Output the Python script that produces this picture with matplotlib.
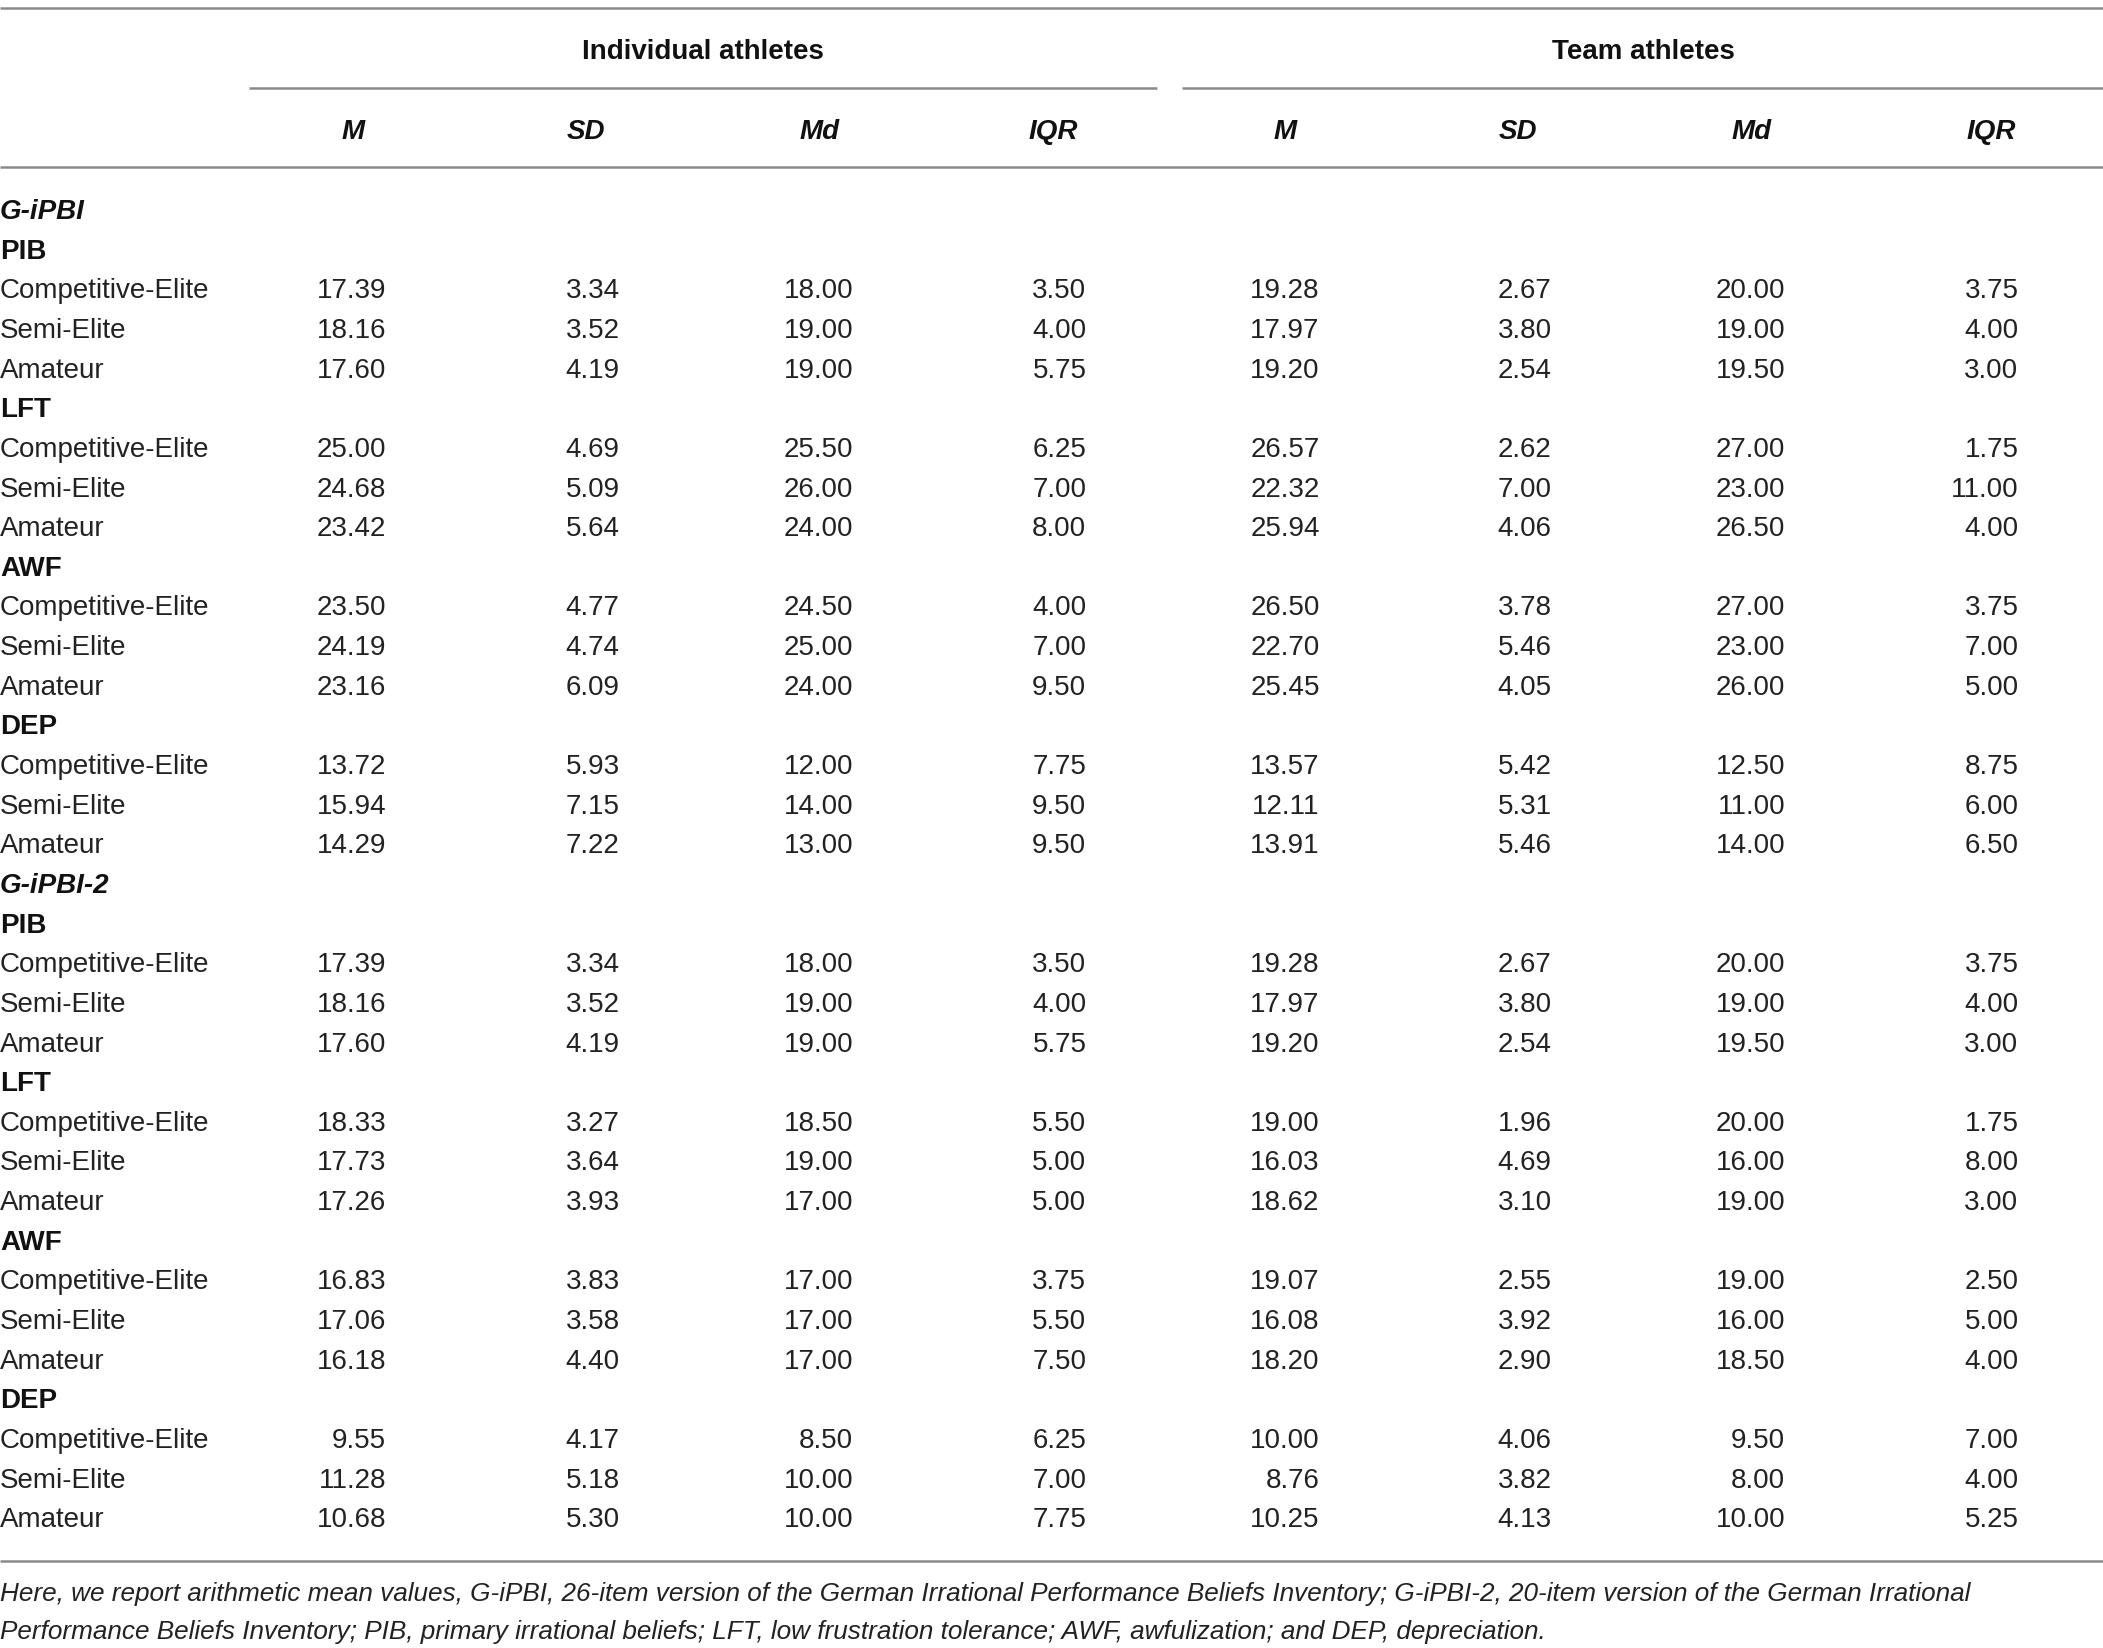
#!/usr/bin/env python3
import matplotlib
matplotlib.use('Agg')
from matplotlib import pyplot as plt

# table content
sections = ['G-iPBI', 'G-iPBI-2']
subscales = ['PIB', 'LFT', 'AWF', 'DEP']
groups = ['Competitive-Elite', 'Semi-Elite', 'Amateur']
col_labels = ['M', 'SD', 'Md', 'IQR', 'M', 'SD', 'Md', 'IQR']
span_labels = ['Individual athletes', 'Team athletes']

ind_m = [17.39, 18.16, 17.60, 25.00, 24.68, 23.42, 23.50, 24.19, 23.16, 13.72, 15.94, 14.29,
         17.39, 18.16, 17.60, 18.33, 17.73, 17.26, 16.83, 17.06, 16.18, 9.55, 11.28, 10.68]
ind_sd = [3.34, 3.52, 4.19, 4.69, 5.09, 5.64, 4.77, 4.74, 6.09, 5.93, 7.15, 7.22,
          3.34, 3.52, 4.19, 3.27, 3.64, 3.93, 3.83, 3.58, 4.40, 4.17, 5.18, 5.30]
ind_md = [18.00, 19.00, 19.00, 25.50, 26.00, 24.00, 24.50, 25.00, 24.00, 12.00, 14.00, 13.00,
          18.00, 19.00, 19.00, 18.50, 19.00, 17.00, 17.00, 17.00, 17.00, 8.50, 10.00, 10.00]
ind_iqr = [3.50, 4.00, 5.75, 6.25, 7.00, 8.00, 4.00, 7.00, 9.50, 7.75, 9.50, 9.50,
           3.50, 4.00, 5.75, 5.50, 5.00, 5.00, 3.75, 5.50, 7.50, 6.25, 7.00, 7.75]
team_m = [19.28, 17.97, 19.20, 26.57, 22.32, 25.94, 26.50, 22.70, 25.45, 13.57, 12.11, 13.91,
          19.28, 17.97, 19.20, 19.00, 16.03, 18.62, 19.07, 16.08, 18.20, 10.00, 8.76, 10.25]
team_sd = [2.67, 3.80, 2.54, 2.62, 7.00, 4.06, 3.78, 5.46, 4.05, 5.42, 5.31, 5.46,
           2.67, 3.80, 2.54, 1.96, 4.69, 3.10, 2.55, 3.92, 2.90, 4.06, 3.82, 4.13]
team_md = [20.00, 19.00, 19.50, 27.00, 23.00, 26.50, 27.00, 23.00, 26.00, 12.50, 11.00, 14.00,
           20.00, 19.00, 19.50, 20.00, 16.00, 19.00, 19.00, 16.00, 18.50, 9.50, 8.00, 10.00]
team_iqr = [3.75, 4.00, 3.00, 1.75, 11.00, 4.00, 3.75, 7.00, 5.00, 8.75, 6.00, 6.50,
            3.75, 4.00, 3.00, 1.75, 8.00, 3.00, 2.50, 5.00, 4.00, 7.00, 4.00, 5.25]

footnote = ['Here, we report arithmetic mean values, G-iPBI, 26-item version of the German Irrational '
            'Performance Beliefs Inventory; G-iPBI-2, 20-item version of the German Irrational',
            'Performance Beliefs Inventory; PIB, primary irrational beliefs; LFT, low frustration '
            'tolerance; AWF, awfulization; and DEP, depreciation.']

columns = [ind_m, ind_sd, ind_md, ind_iqr, team_m, team_sd, team_md, team_iqr]

# layout (in a 1568 x 1225 coordinate frame)
W, H = 1568, 1225
num_right = [288, 462, 636, 810, 984, 1157, 1331, 1505]
head_x = [263, 437, 611, 785, 958, 1132, 1306, 1485]
row0, step = 157.5, 29.45
fs = 20
line_kw = dict(color='#8a8a8a', lw=1.8, solid_capstyle='butt')

plt.rcParams['font.family'] = ['Liberation Sans', 'DejaVu Sans']
fig = plt.figure(figsize=(21.03, 16.49), dpi=100)
ax = fig.add_axes([0, 0, 1, 1])
ax.set_xlim(0, W)
ax.set_ylim(H, 0)
ax.axis('off')

# header
ax.plot([0, W], [7, 7], **line_kw)
ax.text(524, 39, span_labels[0], ha='center', va='center', fontsize=fs, fontweight='bold', color='#111111')
ax.text(1225, 39, span_labels[1], ha='center', va='center', fontsize=fs, fontweight='bold', color='#111111')
ax.plot([186, 863], [66, 66], **line_kw)
ax.plot([881, W], [66, 66], **line_kw)
for x, lab in zip(head_x, col_labels):
	ax.text(x, 98, lab, ha='center', va='center', fontsize=fs, fontweight='bold', style='italic', color='#111111')
ax.plot([0, W], [125, 125], **line_kw)

# body
row = 0
k = 0
for sec in sections:
	y = row0 + row * step
	ax.text(0, y, sec, ha='left', va='center', fontsize=fs, fontweight='bold', style='italic', color='#111111')
	row += 1
	for sub in subscales:
		y = row0 + row * step
		ax.text(0, y, sub, ha='left', va='center', fontsize=fs, fontweight='bold', color='#111111')
		row += 1
		for g in groups:
			y = row0 + row * step
			ax.text(0, y, g, ha='left', va='center', fontsize=fs, color='#222222')
			for xr, col in zip(num_right, columns):
				ax.text(xr, y, '%.2f' % col[k], ha='right', va='center', fontsize=fs, color='#222222')
			row += 1
			k += 1

ax.plot([0, W], [1160, 1160], **line_kw)
ax.text(0, 1184, footnote[0], ha='left', va='center', fontsize=18.8, style='italic', color='#222222')
ax.text(0, 1212, footnote[1], ha='left', va='center', fontsize=18.8, style='italic', color='#222222')

plt.savefig('out.png', dpi=100)
